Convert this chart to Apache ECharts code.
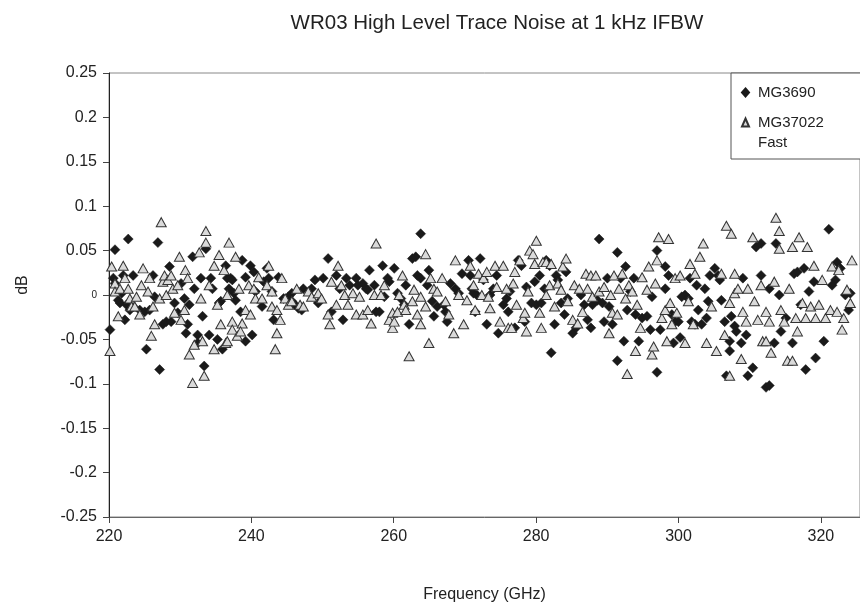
<!DOCTYPE html>
<html>
<head>
<meta charset="utf-8">
<script src="https://cdn.jsdelivr.net/npm/echarts@6/dist/echarts.min.js"></script>
<style>
html,body{margin:0;padding:0;background:#fff;}
#chart{width:860px;height:608px;}
</style>
</head>
<body>
<div id="chart"></div>
<script>
// ---- Data ----
var titleText = 'WR03 High Level Trace Noise at 1 kHz IFBW';
var xTitle = 'Frequency (GHz)';
var yTitle = 'dB';
var seriesNames = ['MG3690', 'MG37022'];
var legendExtraLine = 'Fast';

// MG3690 (black diamonds): frequency (GHz) and value (dB)
var mg3690Freq = [
220.14,220.61,220.84,220.84,221.30,221.54,221.77,222.23,222.70,222.00,223.39,222.46,222.93,223.39,224.32,225.02,225.71,225.25,226.18,226.41,
226.87,227.11,227.57,228.04,228.73,228.50,229.20,229.66,230.12,230.59,230.82,231.28,231.05,231.75,231.98,232.45,232.45,232.91,233.14,233.37,
233.61,234.07,234.30,234.53,235.23,235.93,235.46,235.70,236.39,236.62,237.09,237.32,236.86,237.55,237.78,238.48,238.71,239.18,239.18,239.87,
240.11,240.34,240.57,241.50,241.73,242.19,242.43,242.89,243.12,243.82,244.52,
245.21,245.68,246.14,246.61,247.07,245.68,247.30,248.46,248.93,249.39,250.09,250.78,251.25,251.94,252.41,252.87,253.34,253.80,254.73,254.96,
255.66,256.12,256.35,256.59,257.28,257.52,257.98,258.44,258.68,259.14,259.37,260.07,260.53,261.00,261.46,261.69,262.16,262.62,263.09,263.32,
263.78,263.78,264.94,264.71,265.41,265.64,266.10,267.03,267.27,267.50,267.96,268.66,269.12,269.59,
270.51,270.75,270.98,271.21,271.44,271.68,272.14,272.60,273.07,273.53,274.00,274.46,274.69,275.39,275.85,276.09,276.32,277.01,277.48,277.94,
278.41,278.64,279.34,279.80,280.03,280.50,280.73,281.19,281.42,281.89,282.12,282.59,282.82,283.05,283.51,283.98,284.21,284.44,285.14,285.60,
286.30,286.76,287.23,287.69,287.92,288.62,288.85,289.32,289.55,290.01,290.25,290.71,291.41,291.41,291.87,292.33,292.57,292.80,293.26,293.73,
293.96,294.42,294.89,
295.58,296.05,296.28,296.98,296.98,297.44,298.14,298.14,298.60,299.07,299.30,299.53,299.99,300.23,300.46,300.92,301.39,301.62,301.85,302.32,
302.55,302.78,303.25,303.71,303.94,304.17,304.41,305.10,305.57,305.80,306.03,306.49,306.73,307.19,307.19,307.42,307.89,308.12,308.82,309.05,
309.51,309.74,310.44,310.91,311.60,311.60,312.30,312.76,312.76,313.46,313.69,314.16,314.39,315.08,316.01,316.24,316.71,317.17,317.64,317.87,
318.33,319.03,319.26,320.42,321.12,321.58,322.05,322.28,322.74,323.44,323.90,324.14
];
var mg3690Db = [
-0.039,0.019,0.051,0.013,-0.006,-0.009,0.002,-0.028,0.063,0.022,0.022,-0.011,-0.017,-0.013,-0.017,-0.019,-0.017,-0.061,0.022,-0.002,
0.059,-0.084,-0.033,-0.030,-0.030,0.032,-0.009,-0.020,0.013,-0.004,-0.043,-0.011,-0.033,0.043,0.007,-0.045,-0.054,0.019,-0.024,-0.080,
0.052,-0.045,0.019,0.007,-0.050,-0.061,-0.009,-0.007,0.033,0.019,0.019,0.017,0.007,0.002,-0.006,-0.019,0.039,0.020,-0.052,0.033,
-0.045,0.026,0.004,-0.013,0.015,0.030,0.019,0.004,-0.028,0.020,-0.004,
-0.002,-0.007,-0.011,-0.015,-0.017,0.002,0.007,0.007,0.017,-0.009,0.019,0.041,-0.019,0.022,0.007,-0.028,0.019,0.011,0.019,0.011,
0.013,0.007,0.006,0.028,0.011,-0.019,-0.019,0.033,-0.002,0.019,0.015,0.030,0.002,-0.004,-0.011,0.011,-0.033,0.041,0.043,0.022,
0.069,0.019,0.028,0.011,-0.007,-0.024,-0.013,-0.011,-0.019,-0.030,0.013,0.007,0.002,0.024,
0.039,0.022,0.007,0.002,-0.019,0.000,0.041,0.017,-0.033,0.000,0.007,0.022,-0.043,-0.011,-0.004,-0.019,0.004,-0.037,0.039,0.033,
-0.030,0.009,-0.009,0.015,-0.011,0.022,-0.009,0.007,0.039,0.033,-0.065,-0.033,0.022,0.017,-0.009,-0.022,0.026,-0.004,-0.043,-0.037,
0.000,-0.011,-0.028,-0.037,-0.011,-0.006,0.063,-0.009,-0.030,0.019,-0.013,-0.033,0.048,-0.074,0.019,-0.052,0.032,-0.017,0.004,0.019,
-0.022,-0.052,-0.026,
-0.024,-0.039,-0.002,0.050,-0.087,-0.039,0.032,0.007,0.022,-0.022,-0.054,-0.030,-0.030,-0.048,-0.002,0.000,-0.004,0.019,-0.030,-0.033,
0.011,-0.017,-0.033,0.007,-0.026,-0.007,0.022,0.030,0.022,0.017,-0.006,-0.030,-0.091,-0.052,-0.063,-0.024,-0.035,-0.041,-0.054,0.019,
-0.045,-0.091,-0.082,0.054,0.058,0.022,-0.104,-0.102,0.007,-0.054,0.058,0.000,-0.041,-0.026,-0.054,0.024,0.026,-0.011,0.030,-0.084,
0.004,0.015,-0.071,-0.052,0.074,0.011,0.017,0.037,0.030,0.000,-0.017,0.002
];

// MG37022 Fast (grey triangles): frequency (GHz) and value (dB)
var mg37022Freq = [
220.14,220.37,220.84,220.84,221.30,221.54,222.00,222.23,222.70,222.93,223.16,223.62,223.86,224.32,224.55,224.79,225.48,225.71,225.95,226.18,
226.41,227.11,227.34,227.57,227.80,228.04,228.27,228.73,228.96,229.20,229.66,229.89,230.12,230.59,230.73,231.05,231.28,231.75,231.98,232.68,
232.91,233.14,233.61,233.61,233.37,234.07,234.77,234.77,235.23,235.46,235.70,236.16,236.39,236.62,236.86,236.62,237.32,237.32,237.78,238.02,
238.25,238.71,238.48,239.18,239.64,239.87,240.34,240.57,241.03,241.50,242.19,242.43,242.89,242.89,243.36,243.59,243.59,244.05,244.28,244.75,
245.21,245.68,246.37,246.84,247.30,248.00,248.46,249.39,249.86,250.78,251.02,251.25,251.94,252.18,252.64,253.11,253.57,254.27,254.73,255.66,
255.19,256.35,256.82,257.28,257.52,258.21,258.68,259.37,259.84,259.84,260.07,260.53,260.77,261.23,261.46,261.69,262.16,262.62,262.85,263.32,
263.78,263.78,264.48,264.48,264.94,265.18,265.64,266.10,266.80,267.27,267.73,268.43,268.66,269.12,269.82,
270.28,270.75,271.21,271.44,271.91,272.37,272.60,273.07,273.30,273.53,274.23,274.46,274.93,275.39,275.85,276.09,276.55,276.78,277.01,277.25,
277.71,278.18,278.41,278.64,278.87,279.10,279.57,279.80,280.03,280.50,280.73,280.96,281.42,282.12,281.42,281.89,282.59,283.05,283.51,283.75,
284.21,284.44,285.14,285.37,285.84,286.07,286.53,287.00,287.69,288.39,287.23,287.92,288.85,289.55,290.25,290.48,290.71,290.94,291.41,291.64,
292.10,292.57,293.03,293.50,293.96,294.19,294.66,292.80,294.89,
295.58,295.82,296.28,296.51,296.75,296.98,297.21,297.67,298.14,298.37,298.60,298.83,299.07,299.53,299.76,300.23,300.92,301.39,301.62,302.08,
302.32,303.01,303.48,303.94,304.64,305.33,306.03,306.49,306.73,307.19,307.42,307.19,307.89,307.89,308.35,308.82,309.05,309.51,309.74,310.44,
310.67,311.14,311.83,312.30,311.60,312.30,312.76,313.00,313.46,313.69,314.16,314.16,314.39,314.85,315.32,316.01,315.55,316.01,316.48,316.71,
316.94,317.41,317.87,318.10,318.57,319.03,319.26,319.73,320.19,320.66,321.35,321.58,322.28,322.51,322.98,323.21,323.67,324.14,324.37
];
var mg37022Db = [
-0.063,0.032,0.013,0.004,-0.024,0.007,0.033,0.019,0.007,-0.004,-0.013,-0.013,-0.002,-0.022,0.011,0.030,0.004,0.019,-0.046,-0.013,
-0.033,-0.004,0.082,0.015,0.022,0.000,0.017,0.022,0.007,-0.020,0.011,0.043,-0.028,-0.017,0.028,0.019,-0.067,-0.099,-0.056,0.048,
-0.004,-0.052,0.072,0.059,-0.091,0.011,0.033,-0.061,-0.011,0.045,-0.033,0.028,-0.054,-0.052,0.059,0.000,-0.030,-0.039,0.043,-0.046,
0.007,-0.032,-0.041,-0.017,0.011,-0.022,0.007,-0.004,0.020,-0.004,0.011,0.033,0.004,-0.013,-0.061,-0.043,-0.017,-0.028,0.019,-0.004,
-0.011,-0.007,0.007,-0.011,-0.013,0.004,-0.002,0.002,-0.004,-0.022,-0.033,0.015,-0.011,0.033,0.011,0.000,-0.011,0.002,-0.022,-0.022,
-0.002,-0.017,-0.032,0.000,0.058,0.000,0.011,-0.028,-0.037,-0.020,-0.030,-0.019,0.000,0.022,-0.011,-0.017,-0.069,-0.007,0.006,-0.022,
-0.033,-0.002,0.046,-0.013,-0.054,0.019,0.007,0.004,0.019,-0.007,-0.022,-0.043,0.039,0.000,-0.033,
-0.006,0.033,0.011,-0.017,0.024,0.000,0.019,0.026,-0.002,-0.015,0.033,0.009,-0.030,0.033,0.007,-0.037,-0.037,0.013,0.026,-0.011,
0.039,-0.026,-0.020,-0.041,0.004,0.050,0.046,0.035,0.061,-0.020,-0.037,0.037,0.037,0.035,0.000,0.011,-0.013,0.013,0.006,0.032,
0.041,-0.007,-0.028,0.011,-0.032,0.007,-0.019,0.024,0.022,0.022,0.007,-0.002,0.004,0.009,-0.043,0.000,-0.020,0.022,-0.022,0.007,
0.024,-0.004,0.011,0.004,-0.063,-0.011,-0.037,-0.089,0.020,
0.006,0.032,-0.067,-0.058,0.013,0.039,0.065,-0.026,-0.017,-0.052,0.063,-0.009,-0.033,0.019,-0.020,0.022,-0.054,-0.007,0.035,-0.033,
0.024,0.043,0.058,-0.054,-0.013,-0.063,0.024,-0.045,0.078,-0.091,0.069,-0.009,0.024,0.002,0.007,-0.072,-0.019,-0.030,0.007,0.065,
-0.007,-0.028,-0.052,-0.052,0.011,-0.019,-0.030,-0.065,0.015,0.087,0.072,0.052,-0.017,-0.030,-0.074,-0.074,0.007,0.054,-0.026,-0.041,
0.065,-0.009,-0.026,0.054,-0.013,0.033,-0.026,-0.011,0.017,-0.026,-0.017,0.032,-0.019,0.028,-0.039,-0.026,0.006,-0.009,0.039
];

// Axis settings
var xMin = 220, xMax = 325.5, xStep = 20;
var yMin = -0.25, yMax = 0.25, yStep = 0.05;

function zip(a, b) { var out = []; for (var i = 0; i < a.length; i++) out.push([a[i], b[i]]); return out; }

var FONT = '"Liberation Sans", Arial, sans-serif';
var chart = echarts.init(document.getElementById('chart'), null, {renderer: 'canvas'});
chart.setOption({
  backgroundColor: '#fff',
  animation: false,
  title: {
    text: titleText,
    left: 492, top: 8, textAlign: 'center',
    textStyle: {fontSize: 20.5, fontWeight: 'normal', color: '#222', fontFamily: FONT}
  },
  grid: {left: 109, top: 73, right: -6, bottom: 87, show: true, borderColor: '#888', borderWidth: 1, backgroundColor: 'transparent'},
  xAxis: {
    type: 'value', min: xMin, max: xMax, interval: xStep,
    name: xTitle, nameLocation: 'middle', nameGap: 70,
    nameTextStyle: {fontSize: 16, color: '#222', fontFamily: FONT},
    axisLine: {show: true, onZero: false, lineStyle: {color: '#666', width: 1}},
    axisTick: {show: true, inside: false, length: 6, lineStyle: {color: '#444'}},
    axisLabel: {fontSize: 16, color: '#222', fontFamily: FONT, margin: 12, showMaxLabel: false},
    splitLine: {show: false}
  },
  yAxis: {
    type: 'value', min: yMin, max: yMax, interval: yStep,
    name: yTitle, nameLocation: 'middle', nameGap: 78,
    nameTextStyle: {fontSize: 16, color: '#222', fontFamily: FONT, padding: [0, 0, 0, 20]},
    axisLine: {show: true, onZero: false, lineStyle: {color: '#222', width: 1}},
    axisTick: {show: true, inside: false, length: 6, lineStyle: {color: '#444'}},
    axisLabel: {
      fontSize: 16, color: '#222', fontFamily: FONT, margin: 12,
      formatter: function (v) { return Math.abs(v) < 1e-9 ? '{s|0}' : String(Math.round(v * 100) / 100); },
      rich: {s: {fontSize: 10, color: '#222', fontFamily: FONT}}
    },
    splitLine: {show: false}
  },
  legend: {
    orient: 'vertical', left: 731, top: 73,
    padding: [12, 60, 29, 10], itemGap: 15, itemWidth: 7, itemHeight: 8,
    backgroundColor: '#fff', borderColor: '#555', borderWidth: 1,
    textStyle: {fontSize: 15, color: '#222', fontFamily: FONT, padding: [0, 0, 0, 4]},
    data: [{name: seriesNames[0], icon: 'diamond'}, {name: seriesNames[1], icon: 'triangle'}]
  },
  graphic: [{
    type: 'text', left: 758, top: 135, z: 100,
    style: {text: legendExtraLine, fontSize: 15, fill: '#222', fontFamily: FONT}
  }],
  series: [
    {
      name: seriesNames[0], type: 'scatter', symbol: 'diamond', symbolSize: [10, 10],
      data: zip(mg3690Freq, mg3690Db),
      itemStyle: {color: '#1a1a1a', borderColor: '#1a1a1a', borderWidth: 0.5, opacity: 1},
      emphasis: {disabled: true}, z: 2
    },
    {
      name: seriesNames[1], type: 'scatter', symbol: 'triangle', symbolSize: [10, 9],
      data: zip(mg37022Freq, mg37022Db),
      itemStyle: {color: '#dadada', borderColor: '#333', borderWidth: 1, opacity: 1},
      emphasis: {disabled: true}, z: 3
    }
  ]
});
</script>
</body>
</html>
